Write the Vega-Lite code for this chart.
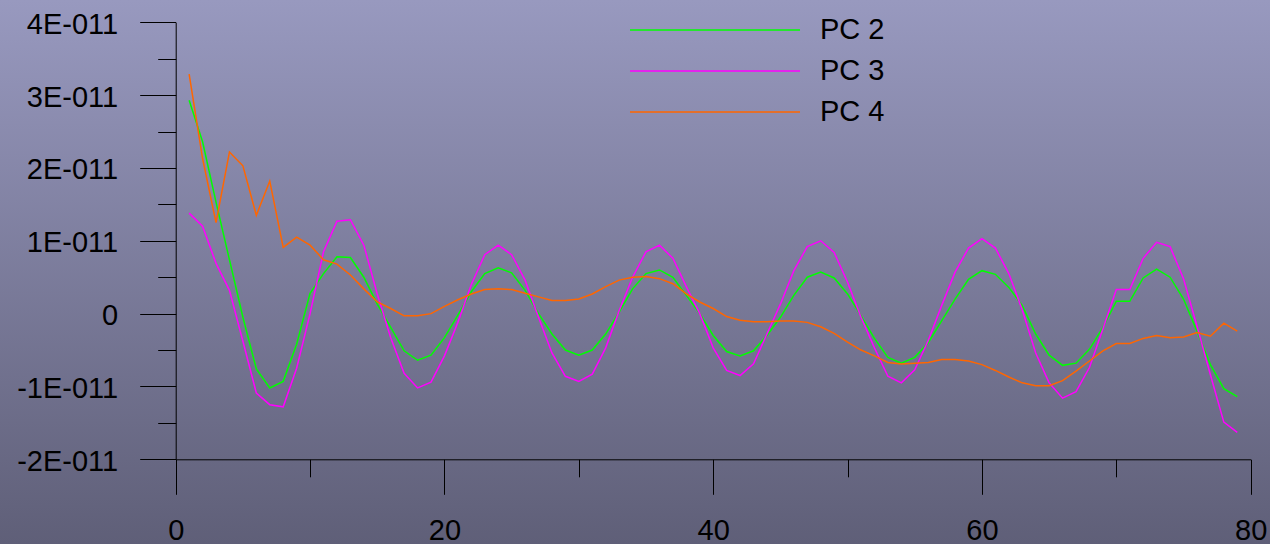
{
  "$schema": "https://vega.github.io/schema/vega-lite/v6.json",
  "width": 1270,
  "height": 544,
  "autosize": {"type": "none"},
  "padding": 0,
  "background": "#7c7d9c",
  "view": {"stroke": null, "fill": {"gradient": "linear", "x1": 0, "y1": 0, "x2": 0, "y2": 1, "stops": [{"offset": 0, "color": "#9899bf"}, {"offset": 1, "color": "#5f5f78"}]}},
  "config": {
    "font": "Liberation Sans",
    "axis": {"domainColor": "#000000", "tickColor": "#000000", "labelColor": "#000000", "labelFont": "Liberation Sans", "labelFontSize": 29, "grid": false, "title": null, "domainWidth": 1, "tickWidth": 1, "labelFlush": false, "labelOverlap": false},
    "legend": {"labelFont": "Liberation Sans"}
  },
  "data": {"values": [
    {"x":1,"series":"PC 2","y":2.93e-11},{"x":2,"series":"PC 2","y":2.36e-11},{"x":3,"series":"PC 2","y":1.53e-11},{"x":4,"series":"PC 2","y":0.74e-11},{"x":5,"series":"PC 2","y":-0.05e-11},{"x":6,"series":"PC 2","y":-0.76e-11},{"x":7,"series":"PC 2","y":-1.02e-11},{"x":8,"series":"PC 2","y":-0.93e-11},{"x":9,"series":"PC 2","y":-0.42e-11},{"x":10,"series":"PC 2","y":0.28e-11},
    {"x":11,"series":"PC 2","y":0.55e-11},{"x":12,"series":"PC 2","y":0.78e-11},{"x":13,"series":"PC 2","y":0.77e-11},{"x":14,"series":"PC 2","y":0.50e-11},{"x":15,"series":"PC 2","y":0.13e-11},{"x":16,"series":"PC 2","y":-0.19e-11},{"x":17,"series":"PC 2","y":-0.51e-11},{"x":18,"series":"PC 2","y":-0.64e-11},{"x":19,"series":"PC 2","y":-0.57e-11},{"x":20,"series":"PC 2","y":-0.33e-11},
    {"x":21,"series":"PC 2","y":-0.02e-11},{"x":22,"series":"PC 2","y":0.30e-11},{"x":23,"series":"PC 2","y":0.55e-11},{"x":24,"series":"PC 2","y":0.63e-11},{"x":25,"series":"PC 2","y":0.56e-11},{"x":26,"series":"PC 2","y":0.32e-11},{"x":27,"series":"PC 2","y":0},{"x":28,"series":"PC 2","y":-0.28e-11},{"x":29,"series":"PC 2","y":-0.50e-11},{"x":30,"series":"PC 2","y":-0.57e-11},
    {"x":31,"series":"PC 2","y":-0.50e-11},{"x":32,"series":"PC 2","y":-0.28e-11},{"x":33,"series":"PC 2","y":0.02e-11},{"x":34,"series":"PC 2","y":0.34e-11},{"x":35,"series":"PC 2","y":0.55e-11},{"x":36,"series":"PC 2","y":0.60e-11},{"x":37,"series":"PC 2","y":0.50e-11},{"x":38,"series":"PC 2","y":0.25e-11},{"x":39,"series":"PC 2","y":0},{"x":40,"series":"PC 2","y":-0.30e-11},
    {"x":41,"series":"PC 2","y":-0.52e-11},{"x":42,"series":"PC 2","y":-0.58e-11},{"x":43,"series":"PC 2","y":-0.51e-11},{"x":44,"series":"PC 2","y":-0.30e-11},{"x":45,"series":"PC 2","y":-0.05e-11},{"x":46,"series":"PC 2","y":0.25e-11},{"x":47,"series":"PC 2","y":0.50e-11},{"x":48,"series":"PC 2","y":0.57e-11},{"x":49,"series":"PC 2","y":0.49e-11},{"x":50,"series":"PC 2","y":0.27e-11},
    {"x":51,"series":"PC 2","y":-0.03e-11},{"x":52,"series":"PC 2","y":-0.34e-11},{"x":53,"series":"PC 2","y":-0.60e-11},{"x":54,"series":"PC 2","y":-0.68e-11},{"x":55,"series":"PC 2","y":-0.60e-11},{"x":56,"series":"PC 2","y":-0.40e-11},{"x":57,"series":"PC 2","y":-0.10e-11},{"x":58,"series":"PC 2","y":0.20e-11},{"x":59,"series":"PC 2","y":0.47e-11},{"x":60,"series":"PC 2","y":0.59e-11},
    {"x":61,"series":"PC 2","y":0.54e-11},{"x":62,"series":"PC 2","y":0.36e-11},{"x":63,"series":"PC 2","y":0.11e-11},{"x":64,"series":"PC 2","y":-0.28e-11},{"x":65,"series":"PC 2","y":-0.57e-11},{"x":66,"series":"PC 2","y":-0.71e-11},{"x":67,"series":"PC 2","y":-0.68e-11},{"x":68,"series":"PC 2","y":-0.49e-11},{"x":69,"series":"PC 2","y":-0.19e-11},{"x":70,"series":"PC 2","y":0.17e-11},
    {"x":71,"series":"PC 2","y":0.17e-11},{"x":72,"series":"PC 2","y":0.49e-11},{"x":73,"series":"PC 2","y":0.61e-11},{"x":74,"series":"PC 2","y":0.50e-11},{"x":75,"series":"PC 2","y":0.20e-11},{"x":76,"series":"PC 2","y":-0.24e-11},{"x":77,"series":"PC 2","y":-0.70e-11},{"x":78,"series":"PC 2","y":-1.03e-11},{"x":79,"series":"PC 2","y":-1.14e-11},

    {"x":1,"series":"PC 3","y":1.38e-11},{"x":2,"series":"PC 3","y":1.20e-11},{"x":3,"series":"PC 3","y":0.69e-11},{"x":4,"series":"PC 3","y":0.32e-11},{"x":5,"series":"PC 3","y":-0.38e-11},{"x":6,"series":"PC 3","y":-1.09e-11},{"x":7,"series":"PC 3","y":-1.25e-11},{"x":8,"series":"PC 3","y":-1.28e-11},{"x":9,"series":"PC 3","y":-0.75e-11},{"x":10,"series":"PC 3","y":0},
    {"x":11,"series":"PC 3","y":0.85e-11},{"x":12,"series":"PC 3","y":1.27e-11},{"x":13,"series":"PC 3","y":1.29e-11},{"x":14,"series":"PC 3","y":0.94e-11},{"x":15,"series":"PC 3","y":0.27e-11},{"x":16,"series":"PC 3","y":-0.33e-11},{"x":17,"series":"PC 3","y":-0.82e-11},{"x":18,"series":"PC 3","y":-1.02e-11},{"x":19,"series":"PC 3","y":-0.94e-11},{"x":20,"series":"PC 3","y":-0.58e-11},
    {"x":21,"series":"PC 3","y":-0.12e-11},{"x":22,"series":"PC 3","y":0.40e-11},{"x":23,"series":"PC 3","y":0.81e-11},{"x":24,"series":"PC 3","y":0.94e-11},{"x":25,"series":"PC 3","y":0.81e-11},{"x":26,"series":"PC 3","y":0.46e-11},{"x":27,"series":"PC 3","y":-0.05e-11},{"x":28,"series":"PC 3","y":-0.54e-11},{"x":29,"series":"PC 3","y":-0.86e-11},{"x":30,"series":"PC 3","y":-0.93e-11},
    {"x":31,"series":"PC 3","y":-0.83e-11},{"x":32,"series":"PC 3","y":-0.47e-11},{"x":33,"series":"PC 3","y":0.04e-11},{"x":34,"series":"PC 3","y":0.50e-11},{"x":35,"series":"PC 3","y":0.85e-11},{"x":36,"series":"PC 3","y":0.94e-11},{"x":37,"series":"PC 3","y":0.76e-11},{"x":38,"series":"PC 3","y":0.37e-11},{"x":39,"series":"PC 3","y":0},{"x":40,"series":"PC 3","y":-0.47e-11},
    {"x":41,"series":"PC 3","y":-0.78e-11},{"x":42,"series":"PC 3","y":-0.85e-11},{"x":43,"series":"PC 3","y":-0.69e-11},{"x":44,"series":"PC 3","y":-0.28e-11},{"x":45,"series":"PC 3","y":0.13e-11},{"x":46,"series":"PC 3","y":0.59e-11},{"x":47,"series":"PC 3","y":0.92e-11},{"x":48,"series":"PC 3","y":1.00e-11},{"x":49,"series":"PC 3","y":0.84e-11},{"x":50,"series":"PC 3","y":0.43e-11},
    {"x":51,"series":"PC 3","y":-0.05e-11},{"x":52,"series":"PC 3","y":-0.47e-11},{"x":53,"series":"PC 3","y":-0.86e-11},{"x":54,"series":"PC 3","y":-0.95e-11},{"x":55,"series":"PC 3","y":-0.77e-11},{"x":56,"series":"PC 3","y":-0.37e-11},{"x":57,"series":"PC 3","y":0.11e-11},{"x":58,"series":"PC 3","y":0.57e-11},{"x":59,"series":"PC 3","y":0.90e-11},{"x":60,"series":"PC 3","y":1.03e-11},
    {"x":61,"series":"PC 3","y":0.90e-11},{"x":62,"series":"PC 3","y":0.55e-11},{"x":63,"series":"PC 3","y":0.05e-11},{"x":64,"series":"PC 3","y":-0.54e-11},{"x":65,"series":"PC 3","y":-0.95e-11},{"x":66,"series":"PC 3","y":-1.16e-11},{"x":67,"series":"PC 3","y":-1.07e-11},{"x":68,"series":"PC 3","y":-0.74e-11},{"x":69,"series":"PC 3","y":-0.21e-11},{"x":70,"series":"PC 3","y":0.33e-11},
    {"x":71,"series":"PC 3","y":0.33e-11},{"x":72,"series":"PC 3","y":0.76e-11},{"x":73,"series":"PC 3","y":0.98e-11},{"x":74,"series":"PC 3","y":0.92e-11},{"x":75,"series":"PC 3","y":0.48e-11},{"x":76,"series":"PC 3","y":-0.17e-11},{"x":77,"series":"PC 3","y":-0.84e-11},{"x":78,"series":"PC 3","y":-1.49e-11},{"x":79,"series":"PC 3","y":-1.63e-11},

    {"x":1,"series":"PC 4","y":3.29e-11},{"x":2,"series":"PC 4","y":2.13e-11},{"x":3,"series":"PC 4","y":1.25e-11},{"x":4,"series":"PC 4","y":2.22e-11},{"x":5,"series":"PC 4","y":2.03e-11},{"x":6,"series":"PC 4","y":1.35e-11},{"x":7,"series":"PC 4","y":1.82e-11},{"x":8,"series":"PC 4","y":0.91e-11},{"x":9,"series":"PC 4","y":1.05e-11},{"x":10,"series":"PC 4","y":0.94e-11},
    {"x":11,"series":"PC 4","y":0.74e-11},{"x":12,"series":"PC 4","y":0.68e-11},{"x":13,"series":"PC 4","y":0.53e-11},{"x":14,"series":"PC 4","y":0.34e-11},{"x":15,"series":"PC 4","y":0.16e-11},{"x":16,"series":"PC 4","y":0.07e-11},{"x":17,"series":"PC 4","y":-0.03e-11},{"x":18,"series":"PC 4","y":-0.03e-11},{"x":19,"series":"PC 4","y":0},{"x":20,"series":"PC 4","y":0.10e-11},
    {"x":21,"series":"PC 4","y":0.19e-11},{"x":22,"series":"PC 4","y":0.27e-11},{"x":23,"series":"PC 4","y":0.33e-11},{"x":24,"series":"PC 4","y":0.34e-11},{"x":25,"series":"PC 4","y":0.33e-11},{"x":26,"series":"PC 4","y":0.28e-11},{"x":27,"series":"PC 4","y":0.23e-11},{"x":28,"series":"PC 4","y":0.18e-11},{"x":29,"series":"PC 4","y":0.18e-11},{"x":30,"series":"PC 4","y":0.20e-11},
    {"x":31,"series":"PC 4","y":0.27e-11},{"x":32,"series":"PC 4","y":0.37e-11},{"x":33,"series":"PC 4","y":0.46e-11},{"x":34,"series":"PC 4","y":0.50e-11},{"x":35,"series":"PC 4","y":0.51e-11},{"x":36,"series":"PC 4","y":0.48e-11},{"x":37,"series":"PC 4","y":0.41e-11},{"x":38,"series":"PC 4","y":0.27e-11},{"x":39,"series":"PC 4","y":0.16e-11},{"x":40,"series":"PC 4","y":0.07e-11},
    {"x":41,"series":"PC 4","y":-0.04e-11},{"x":42,"series":"PC 4","y":-0.09e-11},{"x":43,"series":"PC 4","y":-0.11e-11},{"x":44,"series":"PC 4","y":-0.11e-11},{"x":45,"series":"PC 4","y":-0.10e-11},{"x":46,"series":"PC 4","y":-0.10e-11},{"x":47,"series":"PC 4","y":-0.12e-11},{"x":48,"series":"PC 4","y":-0.18e-11},{"x":49,"series":"PC 4","y":-0.27e-11},{"x":50,"series":"PC 4","y":-0.39e-11},
    {"x":51,"series":"PC 4","y":-0.50e-11},{"x":52,"series":"PC 4","y":-0.58e-11},{"x":53,"series":"PC 4","y":-0.67e-11},{"x":54,"series":"PC 4","y":-0.69e-11},{"x":55,"series":"PC 4","y":-0.68e-11},{"x":56,"series":"PC 4","y":-0.67e-11},{"x":57,"series":"PC 4","y":-0.63e-11},{"x":58,"series":"PC 4","y":-0.63e-11},{"x":59,"series":"PC 4","y":-0.65e-11},{"x":60,"series":"PC 4","y":-0.70e-11},
    {"x":61,"series":"PC 4","y":-0.78e-11},{"x":62,"series":"PC 4","y":-0.87e-11},{"x":63,"series":"PC 4","y":-0.95e-11},{"x":64,"series":"PC 4","y":-0.99e-11},{"x":65,"series":"PC 4","y":-0.99e-11},{"x":66,"series":"PC 4","y":-0.92e-11},{"x":67,"series":"PC 4","y":-0.79e-11},{"x":68,"series":"PC 4","y":-0.65e-11},{"x":69,"series":"PC 4","y":-0.51e-11},{"x":70,"series":"PC 4","y":-0.41e-11},
    {"x":71,"series":"PC 4","y":-0.41e-11},{"x":72,"series":"PC 4","y":-0.34e-11},{"x":73,"series":"PC 4","y":-0.30e-11},{"x":74,"series":"PC 4","y":-0.33e-11},{"x":75,"series":"PC 4","y":-0.32e-11},{"x":76,"series":"PC 4","y":-0.26e-11},{"x":77,"series":"PC 4","y":-0.31e-11},{"x":78,"series":"PC 4","y":-0.13e-11},{"x":79,"series":"PC 4","y":-0.24e-11}
  ]},
  "layer": [
    {
      "mark": {"type": "line", "strokeWidth": 1.5, "clip": false},
      "encoding": {
        "x": {"field": "x", "type": "quantitative",
          "scale": {"domain": [0, 80], "range": [175.7, 1250.7], "nice": false, "zero": false},
          "axis": {"orient": "bottom", "offset": -84.7, "values": [0, 20, 40, 60, 80], "tickSize": 35, "labelPadding": 22}},
        "y": {"field": "y", "type": "quantitative",
          "scale": {"domain": [-2e-11, 4e-11], "range": [459.3, 22.3], "nice": false, "zero": false},
          "axis": {"orient": "left", "offset": -175.7, "values": [-2e-11, -1e-11, 0, 1e-11, 2e-11, 3e-11, 4e-11], "tickSize": 36, "labelPadding": 22, "labelOffset": 2,
            "labelExpr": "datum.value == 0 ? '0' : round(datum.value * 1e11) + 'E-011'"}},
        "color": {"field": "series", "type": "nominal",
          "scale": {"domain": ["PC 2", "PC 3", "PC 4"], "range": ["#00ff00", "#ff00ff", "#ff6600"]},
          "legend": {"orient": "none", "legendX": 697, "legendY": 12, "title": null, "padding": 0,
            "symbolType": "M-5,0H5", "symbolSize": 1156, "symbolStrokeWidth": 1.5,
            "labelFontSize": 29, "labelColor": "#000000", "labelOffset": 87, "rowPadding": 8, "labelLimit": 200}}
      }
    },
    {
      "mark": {"type": "point", "opacity": 0},
      "encoding": {
        "x": {"field": "x", "type": "quantitative",
          "axis": {"orient": "bottom", "offset": -84.7, "values": [10, 30, 50, 70], "tickSize": 17.5, "labels": false, "domain": false}},
        "y": {"field": "y", "type": "quantitative",
          "axis": {"orient": "left", "offset": -175.7, "values": [-1.5e-11, -0.5e-11, 0.5e-11, 1.5e-11, 2.5e-11, 3.5e-11], "tickSize": 18, "labels": false, "domain": false}}
      }
    }
  ],
  "resolve": {"axis": {"x": "independent", "y": "independent"}}
}
